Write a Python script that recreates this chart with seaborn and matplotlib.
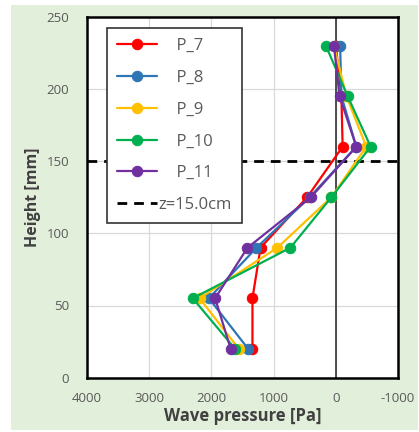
import matplotlib
matplotlib.use("Agg")
import matplotlib.pyplot as plt
import seaborn as sns
import pandas as pd
from matplotlib.patches import Rectangle

heights = [20, 55, 90, 125, 160, 195, 230]
p7 = [1340, 1340, 1210, 460, -110, -90, 0]
p8 = [1410, 2040, 1275, 420, -330, -90, -70]
p9 = [1560, 2190, 940, 70, -490, -170, 30]
p10 = [1620, 2300, 730, 70, -560, -190, 160]
p11 = [1690, 1940, 1420, 400, -330, -60, 30]
series_names = ["P_7", "P_8", "P_9", "P_10", "P_11"]
series_values = [p7, p8, p9, p10, p11]
colors = ["#ff0000", "#2e75b6", "#ffc000", "#00b050", "#7030a0"]
z_level = 150
x_ticks = [4000, 3000, 2000, 1000, 0, -1000]
y_ticks = [0, 50, 100, 150, 200, 250]

rows = []
for name, vals in zip(series_names, series_values):
    for h, v in zip(heights, vals):
        rows.append({"series": name, "pressure": v, "height": h})
df = pd.DataFrame(rows)

sns.set_style("white")
plt.rcParams["font.family"] = ["Open Sans", "DejaVu Sans"]

fig = plt.figure(figsize=(4.19, 4.32), dpi=100)
fig.patch.set_facecolor("white")
fig.patches.append(Rectangle((11 / 419, 0.005), 1 - 12 / 419, 1 - 5 / 432 - 0.005,
                             transform=fig.transFigure, facecolor="#e2efda",
                             edgecolor="none", zorder=-10))
ax = fig.add_axes([87 / 419, 1 - 377.7 / 432, (398 - 87) / 419, (377.7 - 16.7) / 432])
ax.set_zorder(1)
ax.set_facecolor("white")

for name, col in zip(series_names, colors):
    sub = df[df["series"] == name]
    sns.lineplot(data=sub, x="pressure", y="height", sort=False, estimator=None,
                 color=col, marker="o", markersize=7.5, markeredgecolor=col,
                 linewidth=1.6, ax=ax, label="    " + name, zorder=3)

ax.axvline(0, color="#404040", linewidth=1.3, zorder=2)
ax.axhline(z_level, color="black", linestyle=(0, (3.5, 2.5)), linewidth=2, zorder=2,
           label="z=15.0cm")

ax.set_xlim(4000, -1000)
ax.set_ylim(0, 250)
ax.set_xticks(x_ticks)
ax.set_yticks(y_ticks)
ax.set_xticklabels([str(t) for t in x_ticks])
ax.grid(True, color="#d9d9d9", linewidth=0.9, zorder=0)
ax.set_axisbelow(True)
for s in ax.spines.values():
    s.set_color("black")
    s.set_linewidth(1.8)
ax.tick_params(axis="both", colors="#595959", labelsize=9.5, length=0)
ax.tick_params(axis="y", pad=13)
ax.tick_params(axis="x", pad=10)

ax.set_xlabel("Wave pressure [Pa]", fontsize=12, color="#404040", fontweight="bold", labelpad=2)
ax.set_ylabel("Height [mm]", fontsize=11.5, color="#404040", fontweight="bold", labelpad=4)

leg = ax.legend(loc="upper left", bbox_to_anchor=(0.064, 0.969), frameon=True, fancybox=False,
                fontsize=12, labelcolor="#595959", handlelength=2.4, handletextpad=0.1,
                labelspacing=0.95, borderpad=0.6, borderaxespad=0, framealpha=1)
leg.get_frame().set_edgecolor("#333333")
leg.get_frame().set_linewidth(1.2)
leg.set_zorder(5)

fig.savefig("out.png", dpi=100, facecolor=fig.get_facecolor())
